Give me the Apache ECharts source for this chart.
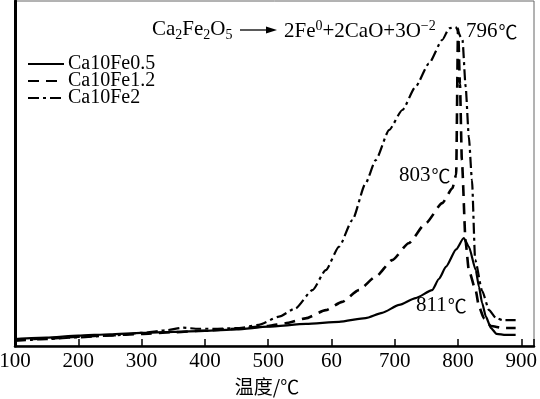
<!DOCTYPE html>
<html>
<head>
<meta charset="utf-8">
<script src="https://cdn.jsdelivr.net/npm/echarts@6/dist/echarts.min.js"></script>
<style>
html,body{margin:0;padding:0;background:#fff}
#main{width:540px;height:399px}
</style>
</head>
<body>
<div id="main"></div>
<script>
// series names
var seriesNames = ['Ca10Fe0.5', 'Ca10Fe1.2', 'Ca10Fe2'];

// x tick values and the labels printed under them (original has "60" for 600)
var tickValues = [100, 200, 300, 400, 500, 600, 700, 800, 900];
var tickLabels = ['100', '200', '300', '400', '500', '60', '700', '800', '900'];

// Ca10Fe0.5 (solid)
var fe05Temp = [100,150,200,250,300,350,400,450,500,560,612,654,680,707,733,759,770,781,797,809,817,828,833,838,844,852,861,875,891];
var fe05Val  = [2.0,2.4,3.0,3.4,3.8,4.1,4.4,4.8,5.6,6.4,7.0,8.1,9.6,11.9,13.9,16.2,19.5,23,28,31.3,28.8,22,17.2,12.5,8.5,5.2,3.5,3.2,3.2];

// Ca10Fe1.2 (dashed)
var fe12Temp = [100,150,200,250,300,350,400,450,500,527,559,591,617,643,670,696,722,749,775,791,797,800,803,806,812,817,828,833,841,852,870,891];
var fe12Val  = [1.8,2.2,2.7,3.1,3.5,4.0,4.5,5.0,5.8,6.6,8.0,10.4,12.8,16.2,20.1,24.9,29.8,35.6,41.4,45.7,49.6,92,76,54,30,22,16,11.4,8,5.8,5.2,5.2];

// Ca10Fe2 (dash-dot)
var fe2Temp = [100,150,200,250,300,340,365,390,420,454,485,517,543,570,591,612,633,654,670,691,712,733,754,775,786,796,807,812,817,822,827,838,849,860,870,891];
var fe2Val  = [1.5,2.0,2.5,3.0,3.8,4.6,5.3,5.0,5.0,5.2,6.1,8.5,10.9,16.2,22,28.8,36.5,47.2,53.9,62.6,68.4,75.2,81.9,88.7,92.1,92.5,88.7,75.2,60.7,48.1,25,16,10.4,8.1,7.5,7.5];

function pairs(t, v) {
    var out = [];
    for (var i = 0; i < t.length; i++) out.push([t[i], v[i]]);
    return out;
}

var serif = 'Liberation Serif';
var cjk = 'Noto Sans CJK SC';
var degRich = {
    n: { fontFamily: serif, fontSize: 21, fill: '#000' },
    c: { fontFamily: cjk, fontSize: 19, fill: '#000', padding: [0, 0, 0, 1] }
};
var myChart = echarts.init(document.getElementById('main'));

var option = {
    animation: false,
    backgroundColor: '#fff',
    textStyle: { fontFamily: serif, color: '#000' },
    grid: {
        left: 15, right: 6, top: 1, bottom: 53,
        show: true, borderColor: '#666', borderWidth: 1,
        outerBoundsMode: 'none'
    },
    legend: {
        orient: 'vertical',
        left: 27, top: 54, padding: 0,
        itemWidth: 36, itemHeight: 14, itemGap: -3,
        itemStyle: { opacity: 0 },
        textStyle: { fontFamily: serif, fontSize: 20, color: '#000', padding: [0, 0, 0, -1] },
        data: seriesNames
    },
    xAxis: {
        type: 'value',
        min: 100, max: 920, interval: 100,
        name: '温度/℃',
        nameLocation: 'middle',
        nameGap: 28,
        nameTextStyle: { fontFamily: cjk, fontSize: 19, color: '#000', padding: [0, 15, 0, 0] },
        axisLine: { lineStyle: { color: '#000', width: 2.5 } },
        axisTick: { inside: true, length: 7, lineStyle: { color: '#000', width: 1.5 } },
        axisLabel: {
            fontFamily: serif, fontSize: 21, color: '#000', margin: 5,
            formatter: function (val) {
                var i = tickValues.indexOf(val);
                return i < 0 ? '' : tickLabels[i];
            }
        },
        splitLine: { show: false }
    },
    yAxis: {
        type: 'value',
        min: 0, max: 100,
        axisLine: { show: true, lineStyle: { color: '#000', width: 3 } },
        axisTick: { show: false },
        axisLabel: { show: false },
        splitLine: { show: false }
    },
    graphic: [
        {
            type: 'text', left: 152, top: 19,
            style: {
                text: '{n|Ca}{s|2}{n|Fe}{s|2}{n|O}{s|5}',
                rich: {
                    n: { fontFamily: serif, fontSize: 21, lineHeight: 25, fill: '#000' },
                    s: { fontFamily: serif, fontSize: 14, lineHeight: 14, verticalAlign: 'bottom', fill: '#000' }
                }
            }
        },
        {
            type: 'line',
            shape: { x1: 240, y1: 30, x2: 268, y2: 30 },
            style: { stroke: '#000', lineWidth: 1.3 }
        },
        {
            type: 'polygon',
            shape: { points: [[266, 26.5], [277, 30], [266, 33.5]] },
            style: { fill: '#000' }
        },
        {
            type: 'text', left: 284, top: 19,
            style: {
                text: '{n|2Fe}{p|0}{n|+2CaO+3O}{p|−2}',
                rich: {
                    n: { fontFamily: serif, fontSize: 21, lineHeight: 25, fill: '#000' },
                    p: { fontFamily: serif, fontSize: 14, lineHeight: 14, verticalAlign: 'top', fill: '#000' }
                }
            }
        },
        {
            type: 'text', left: 466, top: 21,
            style: { text: '{n|796}{c|℃}', rich: degRich }
        },
        {
            type: 'text', left: 399, top: 165,
            style: { text: '{n|803}{c|℃}', rich: degRich }
        },
        {
            type: 'text', left: 416, top: 295,
            style: { text: '{n|811}{c|℃}', rich: degRich }
        }
    ],
    series: [
        {
            name: seriesNames[0], type: 'line', symbol: 'none',
            smooth: 0.2, smoothMonotone: 'x',
            lineStyle: { color: '#000', width: 2.2, type: 'solid' },
            itemStyle: { color: '#000' },
            data: pairs(fe05Temp, fe05Val)
        },
        {
            name: seriesNames[1], type: 'line', symbol: 'none',
            smooth: 0.2, smoothMonotone: 'x',
            lineStyle: { color: '#000', width: 2.6, type: [11, 7] },
            itemStyle: { color: '#000' },
            data: pairs(fe12Temp, fe12Val)
        },
        {
            name: seriesNames[2], type: 'line', symbol: 'none',
            smooth: 0.2, smoothMonotone: 'x',
            lineStyle: { color: '#000', width: 2.2, type: [11, 4, 3, 4] },
            itemStyle: { color: '#000' },
            data: pairs(fe2Temp, fe2Val)
        }
    ]
};
myChart.setOption(option);
</script>
</body>
</html>
